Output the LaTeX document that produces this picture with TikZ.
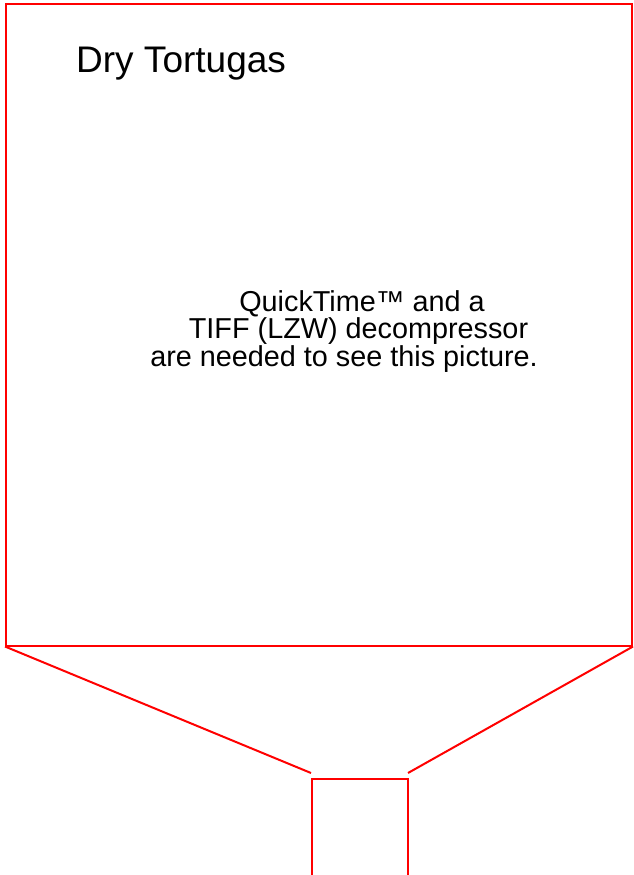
\documentclass[tikz,border=0pt]{standalone}
\usepackage{fontspec}
\setmainfont{Liberation Sans}
\usetikzlibrary{positioning}
\tikzset{
    frame/.style={draw=red,line width=2pt,inner sep=0pt},
    zoomline/.style={-,draw=red,line width=2pt},
    title/.style={anchor=base west,inner sep=0pt,font=\fontsize{37}{37}\selectfont},
    notice/.style={anchor=base,inner sep=0pt,font=\fontsize{28.8}{28.8}\selectfont}
}

\begin{document}
\begin{tikzpicture}[x=1pt,y=-1pt]

                \useasboundingbox (0,0) rectangle (633,875);

                \node[frame] (photo) [minimum width=626pt,minimum height=641pt] at (319,325)  {};
                \node[frame] (inset) [minimum width=96pt,minimum height=98pt]   at (360,828)  {};

                \node[title]  (place)  at (76,73)      {Dry Tortugas};
                \node[notice] (line 1) at (362,311)    {QuickTime™ and a};
                \node[notice] (line 2) at (358.5,338.5) {TIFF (LZW) decompressor};
                \node[notice] (line 3) at (344,366)    {are needed to see this picture.};

                \coordinate (tip left)  at (311,773);
                \coordinate (tip right) at (408,773);

                \draw[zoomline] (photo.south west) -- (tip left);
                \draw[zoomline] (photo.south east) -- (tip right);

\end{tikzpicture}
\end{document}
